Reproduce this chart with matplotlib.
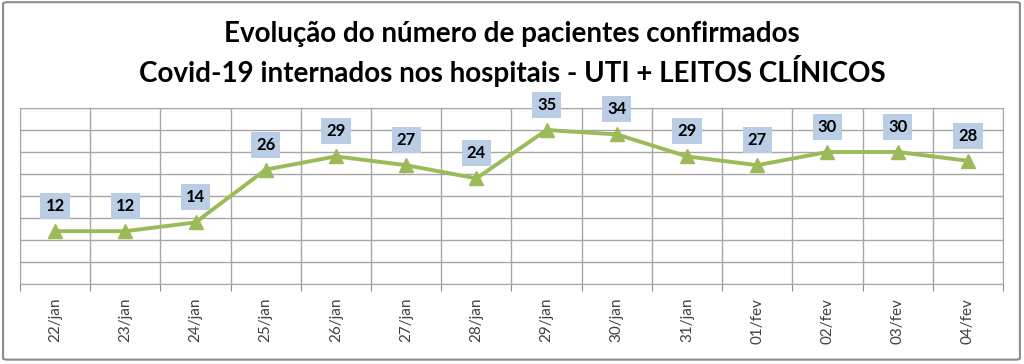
import matplotlib.pyplot as plt
from matplotlib.patches import FancyBboxPatch

datas = ['22/jan', '23/jan', '24/jan', '25/jan', '26/jan', '27/jan', '28/jan',
         '29/jan', '30/jan', '31/jan', '01/fev', '02/fev', '03/fev', '04/fev']
pacientes = [12, 12, 14, 26, 29, 27, 24, 35, 34, 29, 27, 30, 30, 28]

titulo = ('Evolução do número de pacientes confirmados\n'
          'Covid-19 internados nos hospitais - UTI + LEITOS CLÍNICOS')

plt.rcParams['font.family'] = ['Lato', 'DejaVu Sans']

fig = plt.figure(figsize=(10.24, 3.64), dpi=100)

# moldura externa
borda = FancyBboxPatch((0.003, 0.012), 0.993, 0.982, boxstyle='round,pad=0,rounding_size=0.004',
                       transform=fig.transFigure, fill=False, edgecolor='#8c8c8c', linewidth=1.5)
fig.patches.append(borda)

ax = fig.add_axes([0.0195, 0.2198, 0.9600, 0.4835])
x = list(range(len(datas)))
ax.plot(x, pacientes, color='#9bbb59', linewidth=2.8, marker='^', markersize=10,
        markeredgecolor='#9bbb59', zorder=3)

for xi, v in zip(x, pacientes):
    ax.annotate(str(v), (xi, v), xytext=(0, 18), textcoords='offset points',
                ha='center', va='center', fontsize=12, fontweight='bold', color='#000000',
                bbox=dict(boxstyle='square,pad=0.3', facecolor='#b9cde5', edgecolor='none'),
                zorder=4)

ax.set_xlim(-0.5, len(datas) - 0.5)
ax.set_ylim(0, 40)
ax.set_yticks(range(0, 41, 5))
ax.set_yticklabels([])
ax.tick_params(axis='y', length=0)
ax.set_xticks([i - 0.5 for i in range(len(datas) + 1)], minor=False)
ax.set_xticklabels([])
ax.tick_params(axis='x', length=5, color='#8c8c8c')
ax.set_xticks(x, minor=True)
ax.set_xticklabels(datas, minor=True, rotation=90, fontsize=11, color='#404040')
ax.tick_params(axis='x', which='minor', length=0, pad=10)
ax.grid(True, which='major', color='#a6a6a6', linewidth=1)
for s in ax.spines.values():
    s.set_color('#a6a6a6')

fig.text(0.5, 0.852, titulo, ha='center', va='center', fontsize=20, fontweight='bold',
         linespacing=1.3)

fig.savefig('out.png', dpi=100)
